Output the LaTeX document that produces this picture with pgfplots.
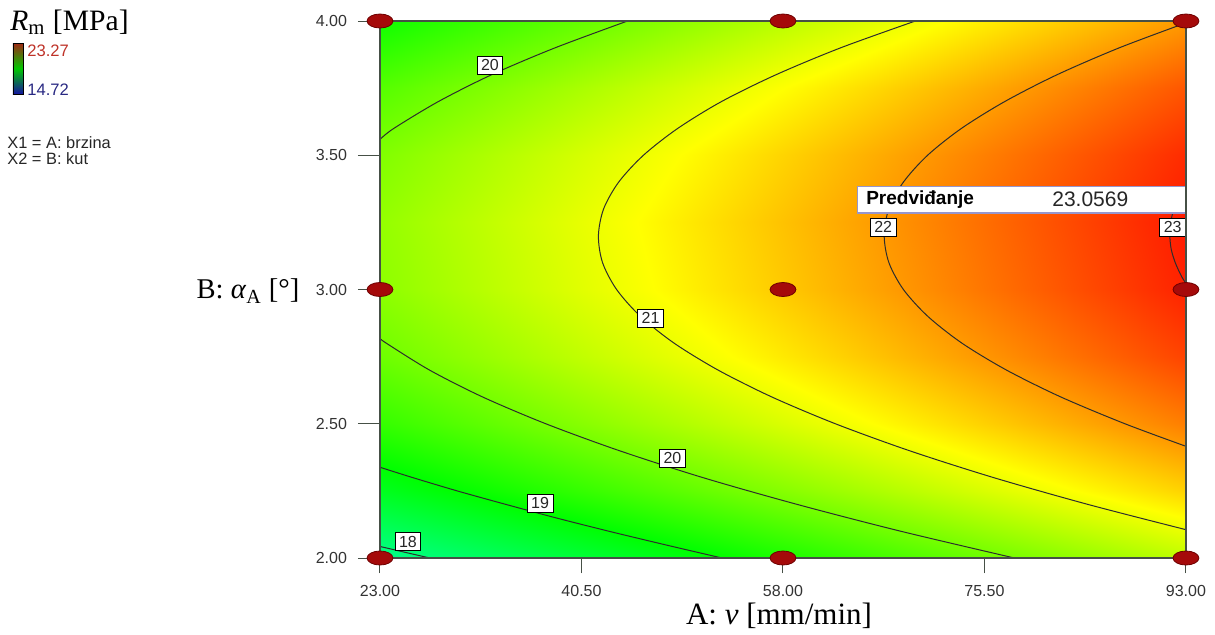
\documentclass[border=0pt]{standalone}
\usepackage{pgfplots}
\pgfplotsset{compat=1.18}
\usepackage{fontspec}
\setmainfont{Liberation Serif}
\newfontfamily\arial{Liberation Sans}
\definecolor{ptred}{RGB}{165,10,10}
\definecolor{ptedge}{RGB}{110,0,0}
\definecolor{cline}{RGB}{45,45,45}
\definecolor{predbox}{RGB}{150,150,205}
\definecolor{legred}{RGB}{190,50,40}
\definecolor{legblue}{RGB}{40,40,130}
\definecolor{framecol}{RGB}{70,80,70}
\definecolor{barred}{RGB}{160,40,20}
\definecolor{bargreen}{RGB}{0,200,0}
\definecolor{barblue}{RGB}{20,20,160}
\tikzset{clab/.style={draw=black, fill=white, line width=0.4pt, font=\arial\fontsize{8}{9}\selectfont, text=black!85, inner xsep=2pt, inner ysep=1.2pt, minimum height=9pt}}
\pgfplotsset{cln/.style={cline, line width=0.5pt, smooth, no marks}}
\begin{document}
\begin{tikzpicture}
\useasboundingbox (-190pt,-38pt) rectangle (417.5pt,279pt);
\begin{axis}[
  at={(0pt,0pt)}, anchor=south west, scale only axis,
  width=403pt, height=268.5pt,
  view={0}{90}, xmin=23, xmax=93, ymin=2, ymax=4,
  clip=false,
  colormap={de}{rgb255=(0,0,255) rgb255=(0,255,255) rgb255=(0,255,0) rgb255=(255,255,0) rgb255=(255,0,0)},
  point meta min=14.72, point meta max=23.27,
  xtick={23,40.5,58,75.5,93}, xticklabels={23.00,40.50,58.00,75.50,93.00},
  ytick={2,2.5,3,3.5,4}, yticklabels={2.00,2.50,3.00,3.50,4.00},
  ztick=\empty,
  tick align=outside, major tick length=7.5pt,
  xtick pos=left, ytick pos=left,
  tick style={framecol, line width=0.5pt},
  axis line style={framecol, line width=0.6pt},
  ticklabel style={font=\arial\fontsize{8}{9}\selectfont, text=black!80},
  xticklabel style={yshift=-2.5pt},
  yticklabel style={xshift=-5.5pt},
]
\addplot3[surf, shader=interp] table {
A B R
23 2.00 17.829
31.75 2.00 18.174
40.5 2.00 18.519
49.25 2.00 18.863
58 2.00 19.208
66.75 2.00 19.553
75.5 2.00 19.898
84.25 2.00 20.242
93 2.00 20.587

23 2.25 18.735
31.75 2.25 19.081
40.5 2.25 19.427
49.25 2.25 19.774
58 2.25 20.120
66.75 2.25 20.466
75.5 2.25 20.813
84.25 2.25 21.159
93 2.25 21.506

23 2.50 19.427
31.75 2.50 19.775
40.5 2.50 20.123
49.25 2.50 20.471
58 2.50 20.819
66.75 2.50 21.167
75.5 2.50 21.515
84.25 2.50 21.863
93 2.50 22.211

23 2.75 19.908
31.75 2.75 20.257
40.5 2.75 20.607
49.25 2.75 20.956
58 2.75 21.306
66.75 2.75 21.656
75.5 2.75 22.005
84.25 2.75 22.355
93 2.75 22.705

23 3.00 20.175
31.75 3.00 20.526
40.5 3.00 20.878
49.25 3.00 21.229
58 3.00 21.580
66.75 3.00 21.931
75.5 3.00 22.283
84.25 3.00 22.634
93 3.00 22.985

23 3.25 20.231
31.75 3.25 20.583
40.5 3.25 20.936
49.25 3.25 21.289
58 3.25 21.642
66.75 3.25 21.995
75.5 3.25 22.348
84.25 3.25 22.701
93 3.25 23.054

23 3.50 20.073
31.75 3.50 20.428
40.5 3.50 20.782
49.25 3.50 21.137
58 3.50 21.491
66.75 3.50 21.846
75.5 3.50 22.200
84.25 3.50 22.555
93 3.50 22.909

23 3.75 19.704
31.75 3.75 20.060
40.5 3.75 20.416
49.25 3.75 20.772
58 3.75 21.128
66.75 3.75 21.484
75.5 3.75 21.840
84.25 3.75 22.196
93 3.75 22.553

23 4.00 19.121
31.75 4.00 19.479
40.5 4.00 19.837
49.25 4.00 20.194
58 4.00 20.552
66.75 4.00 20.910
75.5 4.00 21.268
84.25 4.00 21.625
93 4.00 21.983
};
% contour 18
\addplot3[cln] coordinates {(23,2.043,18) (25.3,2.02,18) (27.34,2.0,18)};
% contour 19
\addplot3[cln] coordinates {(23,2.338,19) (25.8,2.3,19) (29.7,2.25,19) (33.9,2.2,19) (38.24,2.15,19) (42.85,2.1,19) (47.7,2.05,19) (52.7,2.0,19)};
% contour 20 lower
\addplot3[cln] coordinates {(23,2.818,20) (23.55,2.8,20) (27.3,2.7,20) (31.9,2.6,20) (37.4,2.5,20) (43.77,2.4,20) (51.0,2.3,20) (59.2,2.2,20) (68.2,2.1,20) (78.1,2.0,20)};
% contour 20 upper
\addplot3[cln] coordinates {(23,3.559,20) (24.2,3.6,20) (28.07,3.7,20) (32.7,3.8,20) (38.2,3.9,20) (44.5,4.0,20)};
% contour 21
\addplot3[cln] coordinates {(69.5,4.0,21) (63.0,3.9,21) (57.4,3.8,21) (52.66,3.7,21) (48.86,3.6,21) (45.88,3.5,21) (43.73,3.4,21) (42.42,3.3,21) (41.97,3.2,21) (42.33,3.1,21) (43.55,3.0,21) (45.62,2.9,21) (48.55,2.8,21) (52.36,2.7,21) (57.02,2.6,21) (62.55,2.5,21) (68.96,2.4,21) (76.25,2.3,21) (84.45,2.2,21) (93,2.1055,21)};
% contour 22
\addplot3[cln] coordinates {(93,3.993,22) (87.2,3.9,22) (81.81,3.8,22) (77.26,3.7,22) (73.5,3.6,22) (70.56,3.5,22) (68.46,3.4,22) (67.19,3.3,22) (66.79,3.2,22) (67.2,3.1,22) (68.46,3.0,22) (70.58,2.9,22) (73.55,2.8,22) (77.41,2.7,22) (82.12,2.6,22) (87.7,2.5,22) (93,2.416,22)};
% contour 23
\addplot3[cln] coordinates {(93,3.023,23) (92.6,3.05,23) (92.07,3.1,23) (91.72,3.15,23) (91.6,3.2,23) (91.67,3.25,23) (91.96,3.3,23) (92.48,3.35,23) (93,3.388,23)};
% longer y tick marks
\foreach \yy in {2,2.5,3,3.5,4} {
  \edef\temp{\noexpand\draw[framecol, line width=0.5pt] ([xshift=-11pt]axis cs:23,\yy,24) -- (axis cs:23,\yy,24);}
  \temp
}
% design points
\addplot3[only marks, mark=*, mark size=3.5pt, mark options={xscale=1.85, fill=ptred, draw=ptedge, line width=0.4pt}] coordinates {
(23,2,24) (58,2,24) (93,2,24) (23,3,24) (58,3,24) (93,3,24) (23,4,24) (58,4,24) (93,4,24)};
% contour labels
\node[clab] at (axis cs:32.55,3.836,24) {20};
\node[clab] at (axis cs:46.5,2.894,24) {21};
\node[clab] at (axis cs:48.4,2.372,24) {20};
\node[clab] at (axis cs:36.9,2.205,24) {19};
\node[clab] at (axis cs:25.43,2.06,24) {18};
\node[clab] at (axis cs:66.7,3.233,24) {22};
\node[clab, anchor=east] at (axis cs:93,3.233,24) {23};
% prediction flag
\draw[predbox, line width=0.6pt] (axis cs:93,3.285,24) -- (axis cs:93,3.195,24);
\draw[predbox, fill=white, line width=0.6pt] (axis cs:64.5,3.285,24) rectangle (axis cs:93,3.385,24);
\node[anchor=west, font=\arial\bfseries\fontsize{9.5}{10}\selectfont, inner sep=0pt] at (axis cs:65.2,3.335,24) {Predviđanje};
\node[anchor=west, font=\arial\fontsize{10.5}{11}\selectfont, inner sep=0pt, text=black!85] at (axis cs:81.36,3.335,24) {23.0569};
\end{axis}
% axis labels
\node[font=\fontsize{15.5}{17}\selectfont] at (199.5pt,-29pt) {A: \textit{v} [mm/min]};
\node[font=\fontsize{14.3}{16}\selectfont] at (-66pt,133.5pt) {B: \textit{α}\textsubscript{A} [°]};
% legend
\node[font=\fontsize{14.8}{16}\selectfont, anchor=west, inner sep=0pt] at (-185pt,268pt) {\textit{R}\textsubscript{m} [MPa]};
\shade[top color=barred, bottom color=barblue, middle color=bargreen] (-183.5pt,232pt) rectangle (-178.5pt,257.5pt);
\draw[black, line width=0.4pt] (-183.5pt,232pt) rectangle (-178.5pt,257.5pt);
\node[anchor=west, inner sep=0pt, font=\arial\fontsize{8.3}{9}\selectfont, text=legred] at (-176.5pt,253.5pt) {23.27};
\node[anchor=west, inner sep=0pt, font=\arial\fontsize{8.3}{9}\selectfont, text=legblue] at (-176.5pt,234pt) {14.72};
\node[anchor=west, inner sep=0pt, font=\arial\fontsize{8.2}{9}\selectfont, text=black!85] at (-186.5pt,207.5pt) {X1 = A: brzina};
\node[anchor=west, inner sep=0pt, font=\arial\fontsize{8.2}{9}\selectfont, text=black!85] at (-186.5pt,199.5pt) {X2 = B: kut};
\end{tikzpicture}
\end{document}
